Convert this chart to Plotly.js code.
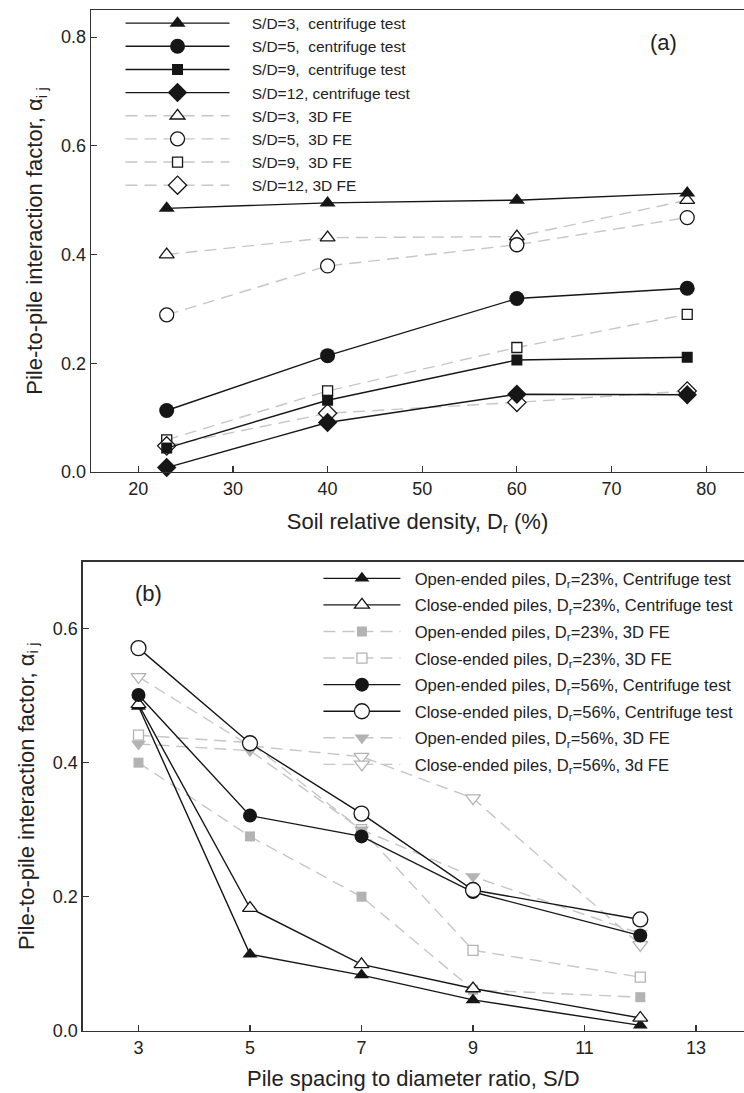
<!DOCTYPE html>
<html><head><meta charset="utf-8">
<script src="https://cdn.plot.ly/plotly-3.0.1.min.js"></script>
<style>html,body{margin:0;padding:0;background:#fff}</style>
</head><body><div id="chart" style="width:744px;height:1093px"></div>
<script>
// ---------- Panel (a) data ----------
const drA = [23, 40, 60, 78];
const cen3 = [0.485, 0.495, 0.500, 0.513];
const cen5 = [0.113, 0.214, 0.319, 0.338];
const cen9 = [0.044, 0.132, 0.206, 0.211];
const cen12 = [0.008, 0.091, 0.143, 0.142];
const fe3 = [0.400, 0.431, 0.433, 0.500];
const fe5 = [0.289, 0.379, 0.418, 0.468];
const fe9 = [0.059, 0.149, 0.229, 0.290];
const fe12 = [0.048, 0.108, 0.128, 0.149];
const namesA = ["S/D=3,\u00a0 centrifuge test", "S/D=5,\u00a0 centrifuge test", "S/D=9,\u00a0 centrifuge test", "S/D=12, centrifuge test",
                "S/D=3,\u00a0 3D FE", "S/D=5,\u00a0 3D FE", "S/D=9,\u00a0 3D FE", "S/D=12, 3D FE"];
const xTicksA = [20, 30, 40, 50, 60, 70, 80];
const yTicksA = [0.0, 0.2, 0.4, 0.6, 0.8];

// ---------- Panel (b) data ----------
const sdB = [3, 5, 7, 9, 12];
const open23c = [0.484, 0.114, 0.083, 0.046, 0.008];
const close23c = [0.487, 0.183, 0.099, 0.063, 0.019];
const open23fe = [0.400, 0.290, 0.200, 0.061, 0.050];
const close23fe = [0.441, 0.430, 0.300, 0.120, 0.080];
const open56c = [0.501, 0.321, 0.290, 0.207, 0.142];
const close56c = [0.571, 0.429, 0.324, 0.210, 0.166];
const open56fe = [0.428, 0.418, 0.300, 0.230, 0.145];
const close56fe = [0.528, 0.425, 0.409, 0.347, 0.128];
const namesB = ["Open-ended piles, D<sub>r</sub>=23%, Centrifuge test", "Close-ended piles, D<sub>r</sub>=23%, Centrifuge test",
                "Open-ended piles, D<sub>r</sub>=23%, 3D FE", "Close-ended piles, D<sub>r</sub>=23%, 3D FE",
                "Open-ended piles, D<sub>r</sub>=56%, Centrifuge test", "Close-ended piles, D<sub>r</sub>=56%, Centrifuge test",
                "Open-ended piles, D<sub>r</sub>=56%, 3D FE", "Close-ended piles, D<sub>r</sub>=56%, 3d FE"];
const xTicksB = [3, 5, 7, 9, 11, 13];
const yTicksB = [0.0, 0.2, 0.4, 0.6];

const BLACK = '#161616', GRAY = '#c6c6c6', MGRAY = '#b3b3b3';
const solid = {color: BLACK, width: 1.4};
const dashed = {color: GRAY, width: 1.4, dash: '12px,7px'};
const FONT = 'Liberation Sans, Arial, sans-serif';
const PADA = '\u00a0\u00a0\u00a0\u00a0', PADB = '\u00a0\u00a0';

function tr(x, y, name, line, marker, rank, ax, leg) {
  return {x: x, y: y, name: name, type: 'scatter', mode: 'lines+markers', line: line, marker: marker,
          legendrank: rank, legendgroup: leg + rank, xaxis: ax[0], yaxis: ax[1], legend: leg,
          cliponaxis: false, hoverinfo: 'x+y'};
}
const A = ['x', 'y'], B = ['x2', 'y2'];
const openBlk = (sym, s) => ({symbol: sym, size: s, color: '#ffffff', line: {color: BLACK, width: 1.3}});
const fillBlk = (sym, s) => ({symbol: sym, size: s, color: BLACK, line: {color: BLACK, width: 0}});
const openGry = (sym, s) => ({symbol: sym, size: s, color: '#ffffff', line: {color: MGRAY, width: 1.3}});
const fillGry = (sym, s) => ({symbol: sym, size: s, color: MGRAY, line: {color: MGRAY, width: 0}});

const data = [
  // panel a: FE drawn first (underneath), legend order via legendrank
  tr(drA, fe3, PADA + namesA[4], dashed, openBlk('triangle-up', 13), 5, A, 'legend'),
  tr(drA, fe5, PADA + namesA[5], dashed, openBlk('circle', 14), 6, A, 'legend'),
  tr(drA, fe9, PADA + namesA[6], dashed, openBlk('square', 10), 7, A, 'legend'),
  tr(drA, fe12, PADA + namesA[7], dashed, openBlk('diamond', 14), 8, A, 'legend'),
  tr(drA, cen3, PADA + namesA[0], solid, fillBlk('triangle-up', 14), 1, A, 'legend'),
  tr(drA, cen5, PADA + namesA[1], solid, fillBlk('circle', 15), 2, A, 'legend'),
  tr(drA, cen9, PADA + namesA[2], solid, fillBlk('square', 11), 3, A, 'legend'),
  tr(drA, cen12, PADA + namesA[3], solid, fillBlk('diamond', 15), 4, A, 'legend'),
  // panel b
  tr(sdB, open23fe, PADB + namesB[2], dashed, fillGry('square', 10), 3, B, 'legend2'),
  tr(sdB, close23fe, PADB + namesB[3], dashed, openGry('square', 10), 4, B, 'legend2'),
  tr(sdB, open56fe, PADB + namesB[6], dashed, fillGry('triangle-down', 13), 7, B, 'legend2'),
  tr(sdB, close56fe, PADB + namesB[7], dashed, openGry('triangle-down', 13), 8, B, 'legend2'),
  tr(sdB, open23c, PADB + namesB[0], solid, fillBlk('triangle-up', 13), 1, B, 'legend2'),
  tr(sdB, close23c, PADB + namesB[1], solid, openBlk('triangle-up', 13), 2, B, 'legend2'),
  tr(sdB, open56c, PADB + namesB[4], solid, fillBlk('circle', 14), 5, B, 'legend2'),
  tr(sdB, close56c, PADB + namesB[5], solid, openBlk('circle', 15), 6, B, 'legend2')
];

const axBase = {showline: true, linecolor: '#333', linewidth: 1.3, ticks: 'inside', ticklen: 6, tickwidth: 1.2,
                tickcolor: '#333', showgrid: false, zeroline: false, automargin: false,
                tickfont: {family: FONT, size: 18, color: '#222'}};
const titleFont = {family: FONT, size: 22, color: '#222'};
const yTitle = 'Pile-to-pile interaction factor, \u03b1<sub>i j</sub>';

const layout = {
  width: 744, height: 1093, margin: {l: 0, r: 0, t: 0, b: 0, autoexpand: false},
  paper_bgcolor: '#fff', plot_bgcolor: '#fff', font: {family: FONT, color: '#222'},
  showlegend: true,
  xaxis: Object.assign({}, axBase, {domain: [0.1223, 1], range: [15, 84], tickvals: xTicksA, mirror: true, anchor: 'y',
          title: {text: 'Soil relative density, D<sub>r</sub> (%)', font: titleFont, standoff: 15}}),
  yaxis: Object.assign({}, axBase, {domain: [0.5682, 0.9909], range: [0, 0.85], tickvals: yTicksA, tickformat: '.1f', anchor: 'x',
          title: {text: yTitle, font: titleFont, standoff: 12}}),
  xaxis2: Object.assign({}, axBase, {domain: [0.1112, 1], range: [2, 13.86], tickvals: xTicksB, mirror: true, anchor: 'y2',
          title: {text: 'Pile spacing to diameter ratio, S/D', font: titleFont, standoff: 14}}),
  yaxis2: Object.assign({}, axBase, {domain: [0.057, 0.4861], range: [0, 0.7], tickvals: yTicksB, tickformat: '.1f', anchor: 'x2',
          title: {text: yTitle, font: titleFont, standoff: 12}}),
  legend: {x: 0.162, y: 0.994, xanchor: 'left', yanchor: 'top', bgcolor: 'rgba(0,0,0,0)', itemwidth: 104,
           font: {family: FONT, size: 15.5, color: '#222'}, tracegroupgap: 0, traceorder: 'grouped'},
  legend2: {x: 0.428, y: 0.4867, xanchor: 'left', yanchor: 'top', bgcolor: 'rgba(0,0,0,0)', itemwidth: 77,
           font: {family: FONT, size: 16.6, color: '#222'}, tracegroupgap: 2, traceorder: 'grouped'},
  annotations: [
    {text: '(a)', xref: 'paper', yref: 'paper', x: 663/744, y: 1 - 43/1093, xanchor: 'center', yanchor: 'middle',
     showarrow: false, font: {family: FONT, size: 22, color: '#222'}},
    {text: '(b)', xref: 'paper', yref: 'paper', x: 148/744, y: 1 - 593/1093, xanchor: 'center', yanchor: 'middle',
     showarrow: false, font: {family: FONT, size: 22, color: '#222'}}
  ]
};

Plotly.newPlot('chart', data, layout, {staticPlot: true});
</script></body></html>
